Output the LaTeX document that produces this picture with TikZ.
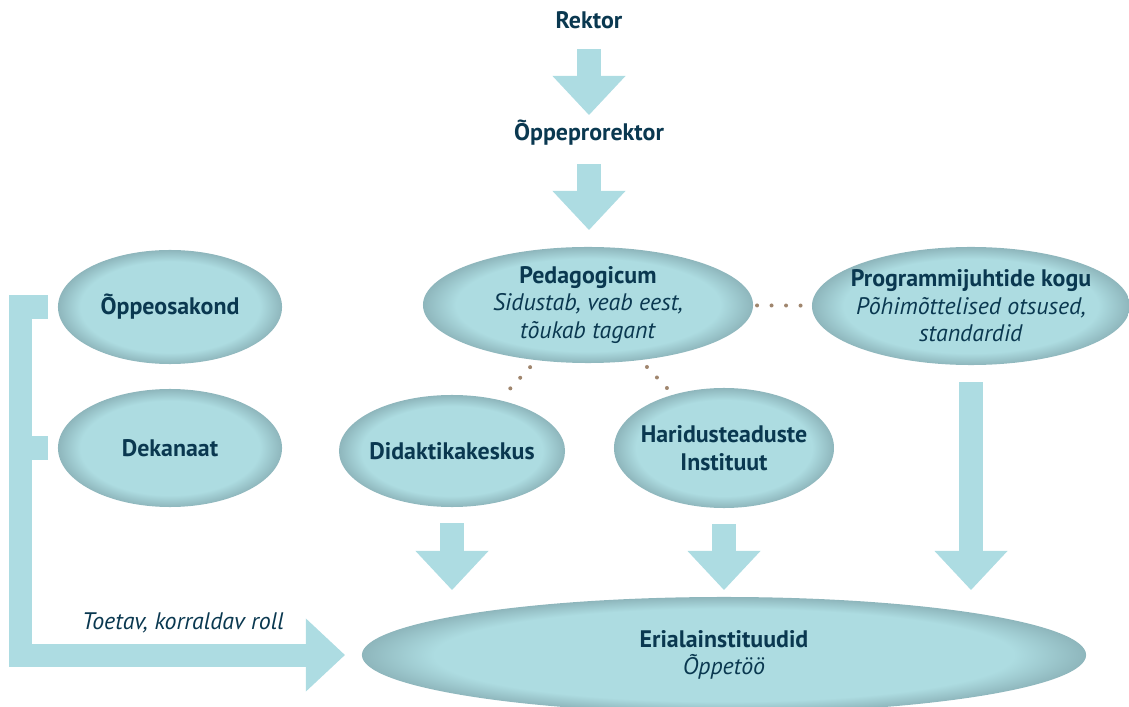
\documentclass[tikz,border=0pt]{standalone}
\usepackage{fontspec}
\setmainfont{PT Sans}
\usepackage{xcolor}
\usepackage{tikz}
\usetikzlibrary{arrows.meta}
\usetikzlibrary{shapes.geometric}

\definecolor{textcol}{HTML}{0A3850}
\definecolor{arrowcol}{HTML}{ADDCE2}
\definecolor{ovalin}{HTML}{ADDCE1}
\definecolor{ovalout}{HTML}{8EB6BC}
\definecolor{dotcol}{HTML}{A0866E}
\pgfdeclareradialshading{ovalshade}{\pgfpointorigin}{color(0bp)=(ovalin); color(20bp)=(ovalin); color(25bp)=(ovalout); color(50bp)=(ovalout)}

\tikzset{
  oval/.style={ellipse, shading=ovalshade, inner xsep=-0.5cm, inner ysep=0pt, outer sep=0pt, align=center, text=textcol, font=\fontsize{17}{19.5}\selectfont},
  headtext/.style={text=textcol, font=\fontsize{17}{19.5}\selectfont\bfseries},
  bigarrow/.style={draw=arrowcol, line width=0.6cm, -{Triangle[width=1.825cm,length=0.975cm,line width=0pt]}},
  dotline/.style={draw=dotcol, line width=0.1cm, line cap=round, dash pattern=on 0pt off 0.3625cm},
}

\begin{document}
\begin{tikzpicture}[x=0.025cm,y=-0.025cm]
\useasboundingbox (0,0) rectangle (1129,707);
\coordinate (railbot) at (20.5,655);
\node[headtext] (rektor) at (589,20) {Rektor};
\node[headtext] (prorektor) at (589,133) {Õppeprorektor};
\node[oval, minimum width=8.25cm, minimum height=2.9cm] (pedag) at (588,305) {\textbf{Pedagogicum}\\\textit{Sidustab, veab eest,}\\\textit{tõukab tagant}};
\node[oval, minimum width=7.95cm, minimum height=2.95cm] (progr) at (971,306) {\textbf{Programmijuhtide kogu}\\\textit{Põhimõttelised otsused,}\\\textit{standardid}};
\node[oval, minimum width=5.6cm, minimum height=2.85cm] (oppe) at (170,307) {\textbf{Õppeosakond}};
\node[oval, minimum width=5.6cm, minimum height=2.95cm] (deka) at (170,448) {\textbf{Dekanaat}};
\node[oval, minimum width=5.65cm, minimum height=2.8cm] (didak) at (452,451) {\textbf{Didaktikakeskus}};
\node[oval, minimum width=5.5cm, minimum height=3cm] (harid) at (724,448) {\textbf{Haridusteaduste}\\\textbf{Instituut}};
\node[oval, minimum width=18.1cm, minimum height=2.9cm] (erial) at (724,655) {\textbf{Erialainstituudid}\\\textit{Õppetöö}};
\node[text=textcol, font=\fontsize{17}{19.5}\selectfont\itshape] (rolltext) at (183,623) {Toetav, korraldav roll};
\draw[bigarrow, shorten <=0.725cm, shorten >=0.45cm] (rektor.center) -- (prorektor.center);
\draw[bigarrow, shorten <=0.775cm, shorten >=0.425cm] (prorektor.center) -- (prorektor.center |- pedag.north);
\draw[bigarrow, shorten <=0.4cm, shorten >=0.175cm] (didak.south) -- (didak.south |- erial.north);
\draw[bigarrow, shorten <=0.4cm, shorten >=0.175cm] (harid.south) -- (harid.south |- erial.north);
\draw[bigarrow, shorten <=0.425cm, shorten >=0.175cm] (progr.south) -- (progr.south |- erial.north);
\draw[bigarrow, line width=0.575cm] ([xshift=-0.25cm]oppe.west) -| (railbot) -- ([xshift=-0.425cm]erial.west);
\draw[draw=arrowcol, line width=0.575cm] ([xshift=-0.25cm]deka.west) -- (deka.west -| railbot);
\draw[dotline, shorten <=0.1cm, shorten >=0.2cm] (pedag) -- (progr);
\draw[dotline, shorten <=0.24cm, shorten >=0.1cm] (pedag) -- (didak);
\draw[dotline, shorten <=0.24cm, shorten >=0.1cm] (pedag) -- (harid);
\end{tikzpicture}
\end{document}
